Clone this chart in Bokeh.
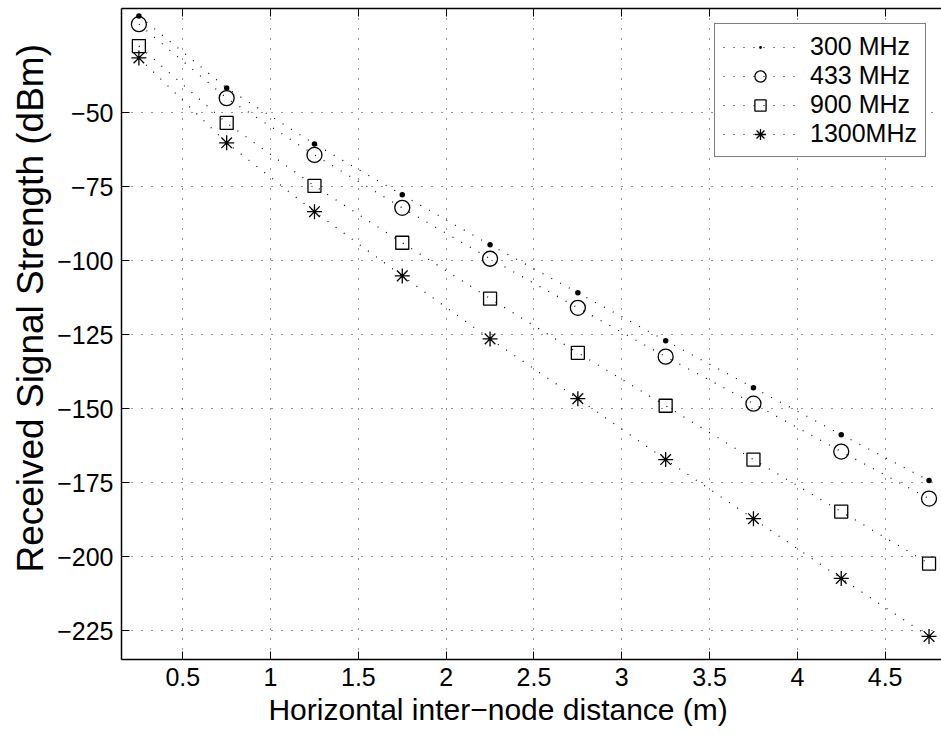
from bokeh.plotting import figure
from bokeh.models import (Range1d, FixedTicker, LinearAxis, CustomJSTickFormatter,
                          Legend, LegendItem)
from bokeh.embed import file_html
from bokeh.resources import INLINE

distance = [0.25, 0.75, 1.25, 1.75, 2.25, 2.75, 3.25, 3.75, 4.25, 4.75]
rss_300 = [-17.2, -41.6, -60.5, -77.7, -94.6, -110.8, -127.0, -142.9, -158.8, -174.3]
rss_433 = [-20.0, -45.0, -64.2, -82.1, -99.3, -115.9, -132.4, -148.3, -164.5, -180.4]
rss_900 = [-27.4, -53.4, -74.7, -93.9, -112.8, -131.1, -149.0, -167.2, -184.8, -202.4]
rss_1300 = [-31.4, -60.1, -83.4, -105.1, -126.4, -146.6, -167.2, -187.2, -207.4, -227.0]
labels = ["300 MHz", "433 MHz", "900 MHz", "1300MHz"]
x_ticks = [0.5, 1, 1.5, 2, 2.5, 3, 3.5, 4, 4.5]
y_ticks = [-225, -200, -175, -150, -125, -100, -75, -50]
x_title = "Horizontal inter\u2212node distance (m)"
y_title = "Received Signal Strength (dBm)"

FONT = "Liberation Sans"
NB = "\u00a0"

p = figure(width=941, height=735, output_backend="svg", toolbar_location=None,
           x_range=Range1d(0.151, 4.821), y_range=Range1d(-234.8, -14.7),
           min_border_left=121, min_border_right=0, min_border_top=8,
           min_border_bottom=76)
p.outline_line_color = None
p.background_fill_color = "white"
p.border_fill_color = "white"

fmt = CustomJSTickFormatter(code="return tick.toString().replace('-', '\\u2212');")

for ax in p.xaxis + p.yaxis:
    ax.axis_line_color = "black"
    ax.axis_line_width = 1.5
    ax.major_tick_line_color = "black"
    ax.major_tick_line_width = 1
    ax.major_tick_in = 8
    ax.major_tick_out = 0
    ax.minor_tick_line_color = None
    ax.major_label_text_font = FONT
    ax.major_label_text_font_size = "25px"
    ax.major_label_text_color = "black"
    ax.axis_label_text_font = FONT
    ax.axis_label_text_font_style = "normal"
    ax.axis_label_text_color = "black"
    ax.formatter = fmt

p.xaxis.ticker = FixedTicker(ticks=x_ticks)
p.yaxis.ticker = FixedTicker(ticks=y_ticks)
# padding spaces shift the centred titles to where the reference has them
p.xaxis.axis_label = x_title + NB * 8
p.yaxis.axis_label = NB * 5 + y_title
p.xaxis.axis_label_text_font_size = "30px"
p.yaxis.axis_label_text_font_size = "37px"
p.xaxis.major_label_standoff = 8
p.xaxis.axis_label_standoff = 4
p.yaxis.major_label_standoff = 8
p.yaxis.axis_label_standoff = 3

top = LinearAxis(ticker=FixedTicker(ticks=x_ticks),
                 formatter=CustomJSTickFormatter(code="return '';"),
                 major_label_text_font_size="1px",
                 major_label_standoff=0, major_tick_in=8, major_tick_out=0,
                 minor_tick_line_color=None, axis_line_color="black",
                 axis_line_width=1.5, major_tick_line_color="black")
p.add_layout(top, "above")

for g in (p.xgrid, p.ygrid):
    g.grid_line_color = "black"
    g.grid_line_dash = "1 9"
    g.grid_line_width = 1
    g.grid_line_alpha = 0.85
p.xgrid.ticker = FixedTicker(ticks=x_ticks)
p.ygrid.ticker = FixedTicker(ticks=y_ticks)

series = [rss_300, rss_433, rss_900, rss_1300]
markers = [("dot", 22, "black"), ("circle", 15, None), ("square", 13, None),
           ("asterisk", 15, None)]
items = []
for lab, ys, (mk, sz, fill) in zip(labels, series, markers):
    ln = p.line(distance, ys, line_color="black", line_dash="1 9", line_width=1.2)
    sc = p.scatter(distance, ys, marker=mk, size=sz, line_color="black",
                   fill_color=fill, line_width=1.3)
    items.append(LegendItem(label=lab, renderers=[ln, sc]))

legend = Legend(items=items, location="top_right", margin=15, padding=8, spacing=0,
                glyph_width=74, glyph_height=28, label_height=28, label_standoff=13,
                label_text_font=FONT, label_text_font_size="25px",
                label_text_color="black", border_line_color="black",
                border_line_width=1, background_fill_color="white",
                background_fill_alpha=1)
p.add_layout(legend, "center")

open("out.html", "w").write(file_html(p, INLINE))
